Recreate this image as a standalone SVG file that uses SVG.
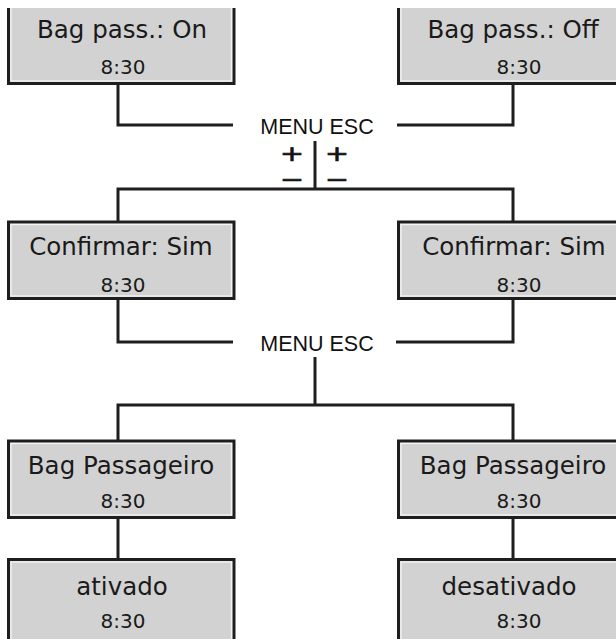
<svg xmlns="http://www.w3.org/2000/svg" width="616" height="639" viewBox="0 0 616 639">
<style>
.frame{fill:#d2d2d2;stroke:#1e1e1e;stroke-width:3}
.hl{fill:none;stroke:#f4f4f4;stroke-width:1.3}
.lbl{font-family:"DejaVu Sans","Liberation Sans",sans-serif;font-size:24.5px;fill:#1a1a1a;text-anchor:middle}
.tm{font-family:"DejaVu Sans","Liberation Sans",sans-serif;font-size:20px;fill:#1a1a1a;text-anchor:middle}
.key{font-family:"Liberation Sans",Arial,sans-serif;font-size:21.5px;fill:#111;text-anchor:middle}
.pm{font-family:"DejaVu Sans","Liberation Sans",sans-serif;font-size:22px;fill:#111;stroke:#111;stroke-width:0.7;text-anchor:middle}
.conn{fill:none;stroke:#1e1e1e;stroke-width:3;stroke-linejoin:miter}
</style>
<defs>
<clipPath id="topclip"><rect x="0" y="8" width="616" height="100"/></clipPath>
</defs>
<rect x="0" y="0" width="616" height="639" fill="#ffffff"/>

<g id="connectors">
<polyline class="conn" points="118,84 118,125 233,125"/>
<polyline class="conn" points="397,125 513,125 513,84"/>
<line class="conn" x1="315" y1="141" x2="315" y2="189"/>
<polyline class="conn" points="118,222 118,189 513,189 513,222"/>
<polyline class="conn" points="118,298 118,342 233,342"/>
<polyline class="conn" points="396,342 513,342 513,298"/>
<line class="conn" x1="315" y1="357" x2="315" y2="405"/>
<polyline class="conn" points="118,441 118,405 513,405 513,441"/>
<line class="conn" x1="118" y1="517" x2="118" y2="560"/>
<line class="conn" x1="513" y1="517" x2="513" y2="560"/>
</g>

<g id="menu-esc-1">
<text class="key" x="317" y="134">MENU ESC</text>
<g transform="scale(1.3,1)">
<text class="pm" x="224.6" y="161">+</text>
<text class="pm" x="224.6" y="187">−</text>
<text class="pm" x="259.2" y="161">+</text>
<text class="pm" x="259.2" y="187">−</text>
</g>
</g>
<g id="menu-esc-2">
<text class="key" x="317" y="351">MENU ESC</text>
</g>

<g id="bag-pass-on" clip-path="url(#topclip)">
<rect class="frame" x="8.5" y="-20" width="225.5" height="103.5"/>
<rect class="hl" x="11" y="-20" width="220.5" height="101"/>
<text class="lbl" x="122" y="38">Bag pass.: On</text>
<text class="tm" x="123" y="74">8:30</text>
</g>
<g id="bag-pass-off" clip-path="url(#topclip)">
<rect class="frame" x="398.5" y="-20" width="260" height="103.5"/>
<rect class="hl" x="401" y="-20" width="260" height="101"/>
<text class="lbl" x="513" y="38">Bag pass.: Off</text>
<text class="tm" x="519" y="74">8:30</text>
</g>

<g id="confirmar-left">
<rect class="frame" x="8.5" y="222" width="225.5" height="76.5"/>
<rect class="hl" x="11" y="224.5" width="220.5" height="71.5"/>
<text class="lbl" x="121" y="255">Confirmar: Sim</text>
<text class="tm" x="123" y="292">8:30</text>
</g>
<g id="confirmar-right">
<rect class="frame" x="398.5" y="222" width="260" height="76.5"/>
<rect class="hl" x="401" y="224.5" width="260" height="71.5"/>
<text class="lbl" x="514" y="255">Confirmar: Sim</text>
<text class="tm" x="519" y="292">8:30</text>
</g>

<g id="bag-passageiro-left">
<rect class="frame" x="8.5" y="441" width="225.5" height="76.5"/>
<rect class="hl" x="11" y="443.5" width="220.5" height="71.5"/>
<text class="lbl" x="121" y="474">Bag Passageiro</text>
<text class="tm" x="123" y="508">8:30</text>
</g>
<g id="bag-passageiro-right">
<rect class="frame" x="398.5" y="441" width="260" height="76.5"/>
<rect class="hl" x="401" y="443.5" width="260" height="71.5"/>
<text class="lbl" x="513" y="474">Bag Passageiro</text>
<text class="tm" x="519" y="508">8:30</text>
</g>

<g id="ativado">
<rect class="frame" x="8.5" y="559.5" width="225.5" height="110"/>
<rect class="hl" x="11" y="562" width="220.5" height="110"/>
<text class="lbl" x="122" y="595">ativado</text>
<text class="tm" x="123" y="628">8:30</text>
</g>
<g id="desativado">
<rect class="frame" x="398.5" y="559.5" width="260" height="110"/>
<rect class="hl" x="401" y="562" width="260" height="110"/>
<text class="lbl" x="509" y="595">desativado</text>
<text class="tm" x="519" y="628">8:30</text>
</g>
</svg>
